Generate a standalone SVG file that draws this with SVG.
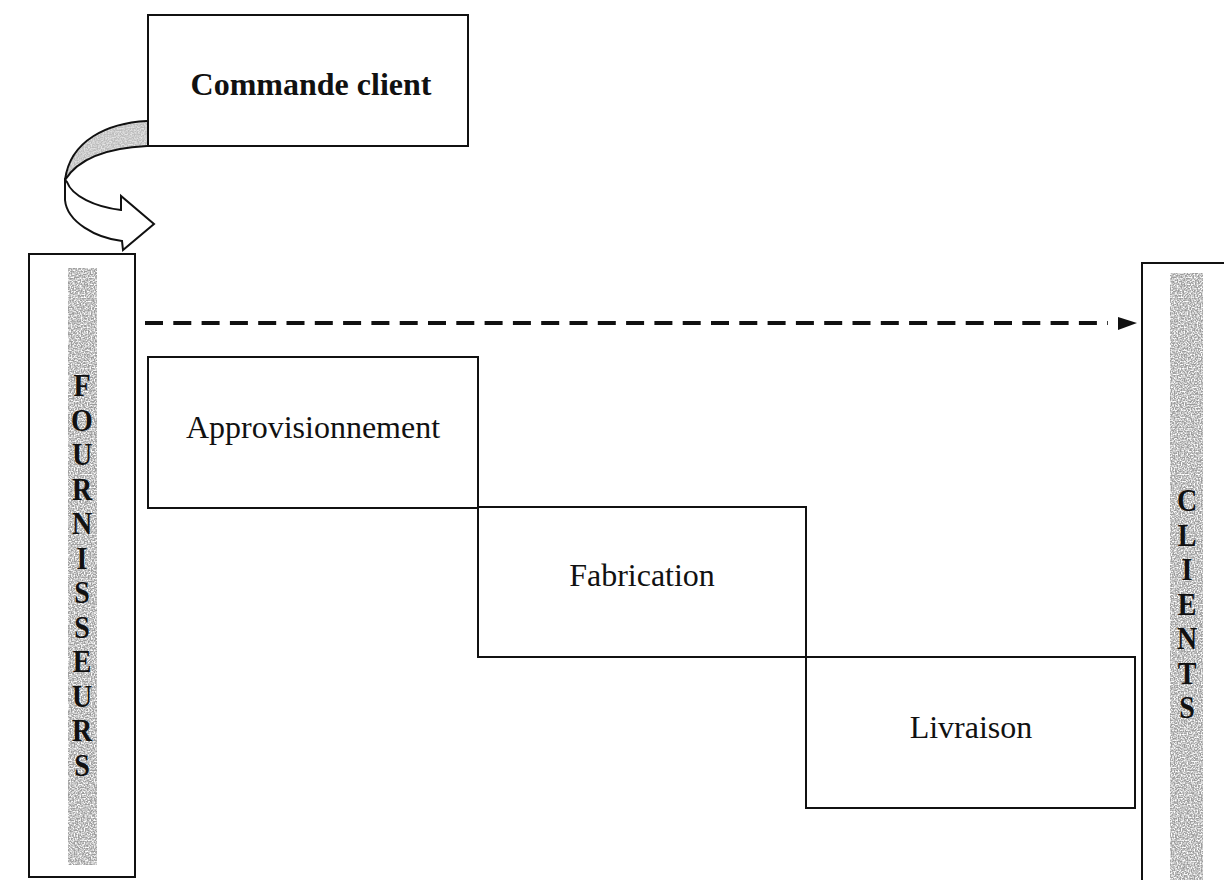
<svg xmlns="http://www.w3.org/2000/svg" width="1224" height="880" viewBox="0 0 1224 880">
  <style>
    .box { fill: #ffffff; stroke: #111111; stroke-width: 2; }
    .lbl { font-family: "Liberation Serif", "Times New Roman", serif; font-size: 32px; fill: #111111; text-anchor: middle; }
    .bold { font-weight: bold; }
    .vl { font-family: "Liberation Serif", "Times New Roman", serif; font-size: 28px; font-weight: bold; fill: #111111; text-anchor: middle; }
    .strip { fill: #9c9c9c; }
    .conn { stroke: #111111; stroke-width: 4; fill: none; stroke-dasharray: 18 10.3; }
  </style>
  <defs>
    <filter id="speck" x="0" y="0" width="1" height="1" filterUnits="objectBoundingBox">
      <feTurbulence type="fractalNoise" baseFrequency="0.7" numOctaves="1" seed="5"/>
      <feColorMatrix type="matrix" values="0 0 0 0 1  0 0 0 0 1  0 0 0 0 1  3 0 0 0 -1.1"/>
    </filter>
    <clipPath id="bandClip">
      <path d="M147,121 C108,123 70,140 65,180 C78,159 105,148 147,146 Z"/>
    </clipPath>
  </defs>

  <rect width="1224" height="880" fill="#ffffff"/>

  <g id="commande-client">
    <rect class="box" x="148" y="15" width="320" height="131"/>
    <text class="lbl bold" x="311" y="95">Commande client</text>
  </g>

  <g id="curved-arrow">
    <path d="M147,121 C108,123 70,140 65,180 C78,159 105,148 147,146 Z" fill="#bcbcbc"/>
    <rect x="60" y="115" width="90" height="70" fill="#ffffff" filter="url(#speck)" clip-path="url(#bandClip)" opacity="0.6"/>
    <path d="M147,121 C108,123 70,140 65,180 C78,159 105,148 147,146" fill="none" stroke="#111111" stroke-width="2"/>
    <path d="M65,180 L65,200 C67,222 96,238 122,241 L123,250 L154,224 L121,196 L121,210 C95,207 72,196 67,182 Z" fill="#ffffff" stroke="#111111" stroke-width="2" stroke-linejoin="miter"/>
  </g>

  <g id="fournisseurs">
    <rect class="box" x="29" y="254" width="106" height="623"/>
    <rect class="strip" x="68" y="268" width="29" height="597"/>
    <rect x="68" y="268" width="29" height="597" fill="#ffffff" filter="url(#speck)"/>
    <text class="vl" transform="translate(82,396) scale(1,1.15)">F</text>
    <text class="vl" transform="translate(82,430.5) scale(1,1.15)">O</text>
    <text class="vl" transform="translate(82,465) scale(1,1.15)">U</text>
    <text class="vl" transform="translate(82,499.5) scale(1,1.15)">R</text>
    <text class="vl" transform="translate(82,534) scale(1,1.15)">N</text>
    <text class="vl" transform="translate(82,568.5) scale(1,1.15)">I</text>
    <text class="vl" transform="translate(82,603) scale(1,1.15)">S</text>
    <text class="vl" transform="translate(82,637.5) scale(1,1.15)">S</text>
    <text class="vl" transform="translate(82,672) scale(1,1.15)">E</text>
    <text class="vl" transform="translate(82,706.5) scale(1,1.15)">U</text>
    <text class="vl" transform="translate(82,741) scale(1,1.15)">R</text>
    <text class="vl" transform="translate(82,775.5) scale(1,1.15)">S</text>
  </g>

  <g id="clients">
    <rect class="box" x="1142" y="263" width="100" height="640"/>
    <rect class="strip" x="1170" y="273" width="33" height="607"/>
    <rect x="1170" y="273" width="33" height="607" fill="#ffffff" filter="url(#speck)"/>
    <text class="vl" transform="translate(1187,511) scale(1,1.15)">C</text>
    <text class="vl" transform="translate(1187,545.5) scale(1,1.15)">L</text>
    <text class="vl" transform="translate(1187,580) scale(1,1.15)">I</text>
    <text class="vl" transform="translate(1187,614.5) scale(1,1.15)">E</text>
    <text class="vl" transform="translate(1187,649) scale(1,1.15)">N</text>
    <text class="vl" transform="translate(1187,683.5) scale(1,1.15)">T</text>
    <text class="vl" transform="translate(1187,718) scale(1,1.15)">S</text>
  </g>

  <g id="approvisionnement">
    <rect class="box" x="148" y="357" width="330" height="151"/>
    <text class="lbl" x="313" y="438">Approvisionnement</text>
  </g>

  <g id="fabrication">
    <rect class="box" x="478" y="507" width="328" height="150"/>
    <text class="lbl" x="642" y="586">Fabrication</text>
  </g>

  <g id="livraison">
    <rect class="box" x="806" y="657" width="329" height="151"/>
    <text class="lbl" x="971" y="738">Livraison</text>
  </g>

  <g id="connectors">
    <line class="conn" x1="137" y1="323" x2="1108" y2="323" stroke-dashoffset="-8"/>
    <polygon points="1118,317 1137,323 1118,330" fill="#111111"/>
  </g>
</svg>
